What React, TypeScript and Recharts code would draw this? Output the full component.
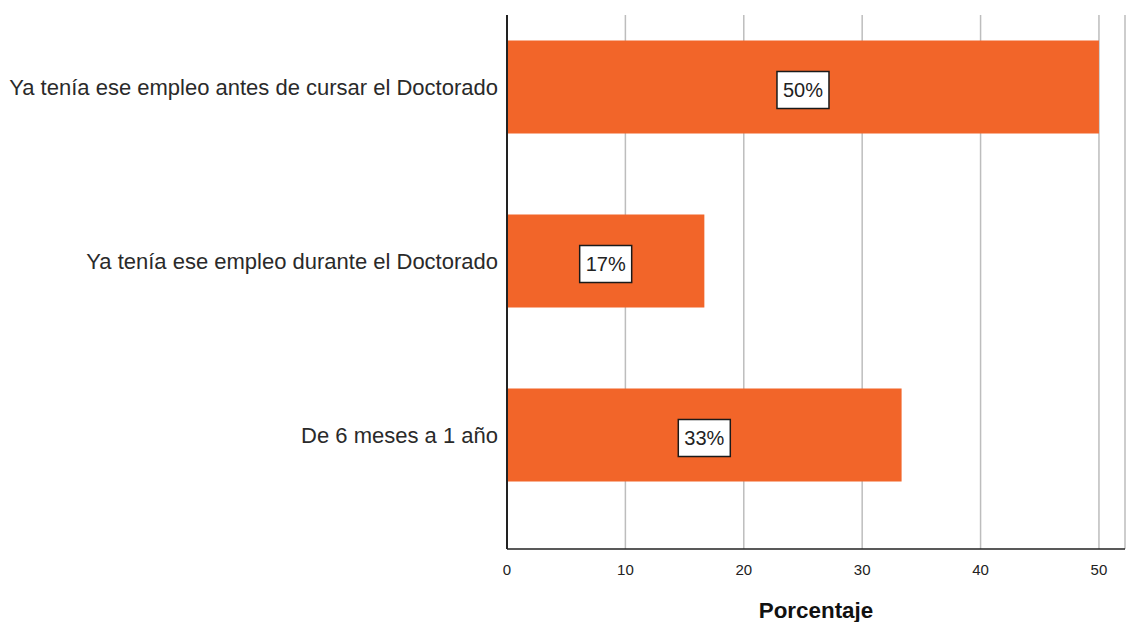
import React from "react";
import { BarChart, Bar, XAxis, YAxis, CartesianGrid, LabelList, Label } from "recharts";

const categories = [
  "Ya tenía ese empleo antes de cursar el Doctorado",
  "Ya tenía ese empleo durante el Doctorado",
  "De 6 meses a 1 año",
];
const values = [50, 16.67, 33.33];
const valueLabels = ["50%", "17%", "33%"];
const xTicks = [0, 10, 20, 30, 40, 50];

const data = categories.map((c, i) => ({ pos: i, name: c, value: values[i], label: valueLabels[i] }));

const FONT = "'Liberation Sans', Arial, Helvetica, sans-serif";

const BoxLabel = (props: any) => {
  const { x, y, width, height, value } = props;
  const cx = Number(x) + Number(width) / 2;
  const cy = Number(y) + Number(height) / 2 + 3;
  const w = 52;
  const h = 37;
  return (
    <g>
      <rect x={cx - w / 2} y={cy - h / 2} width={w} height={h} fill="#ffffff" stroke="#1a1a1a" strokeWidth={1.5} />
      <text x={cx} y={cy} textAnchor="middle" dominantBaseline="central" fontFamily={FONT} fontSize={20} fill="#222">
        {value}
      </text>
    </g>
  );
};

export default function App() {
  return (
    <div style={{ position: "absolute", left: 0, top: 0, width: 1126, height: 622, background: "#fff" }}>
      <BarChart
        width={1126}
        height={622}
        data={data}
        layout="vertical"
        margin={{ top: 15, right: 1, bottom: 0, left: 0 }}
      >
        <CartesianGrid horizontal={false} vertical={true} stroke="#bdbdbd" strokeWidth={1.5} />
        <XAxis
          type="number"
          domain={[0, 52.2]}
          ticks={xTicks}
          allowDataOverflow
          height={73}
          axisLine={{ stroke: "#222", strokeWidth: 1.5 }}
          tickLine={false}
          tickMargin={9}
          tick={{ fontSize: 15, fill: "#222", fontFamily: FONT }}
        >
          <Label
            value="Porcentaje"
            position="insideBottom"
            offset={4}
            style={{ fontSize: 22.4, fontWeight: "bold", fill: "#111", fontFamily: FONT }}
          />
        </XAxis>
        <YAxis
          type="number"
          dataKey="pos"
          domain={[-0.4167, 2.6523]}
          allowDataOverflow
          ticks={[0, 1, 2]}
          tickFormatter={(v: number) => categories[v] ?? ""}
          width={507}
          axisLine={{ stroke: "#222", strokeWidth: 2 }}
          tickLine={false}
          tickSize={6}
          tickMargin={3}
          tick={{ fontSize: 22, fill: "#2a2a2a", fontFamily: FONT }}
        />
        <Bar dataKey="value" fill="#F26529" barSize={93} isAnimationActive={false}>
          <LabelList dataKey="label" content={BoxLabel} />
        </Bar>
      </BarChart>
    </div>
  );
}
